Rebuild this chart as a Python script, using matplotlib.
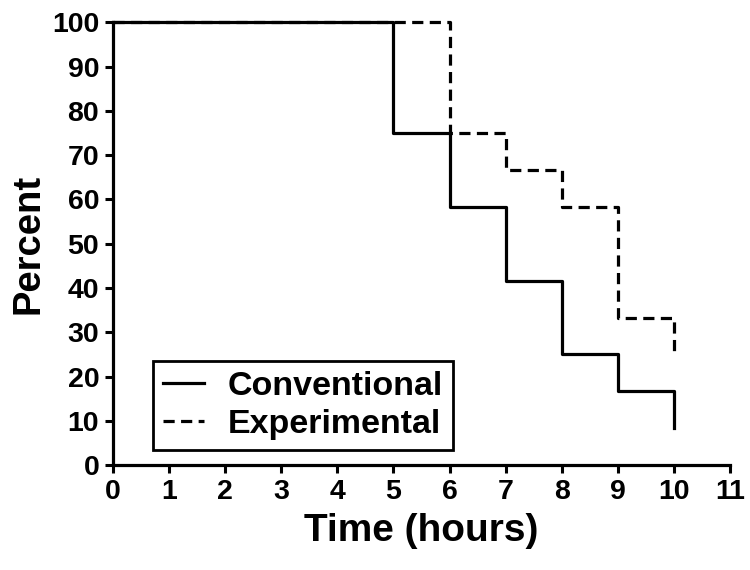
import matplotlib.pyplot as plt

plt.rcParams['font.family'] = ['Liberation Sans', 'DejaVu Sans']
plt.rcParams['font.weight'] = 'bold'

# survival data (percent)
conv_time = [0, 5, 6, 7, 8, 9, 10]
conv_pct = [100, 75, 58.33, 41.67, 25, 16.67, 8.33]
exp_time = [0, 6, 7, 8, 9, 10]
exp_pct = [100, 75, 66.67, 58.33, 33.33, 25]

x_ticks = list(range(0, 12))
y_ticks = list(range(0, 101, 10))

fig = plt.figure(figsize=(7.5, 5.7), dpi=100)
ax = fig.add_axes([0.1507, 0.184, 0.8227, 0.777])

ax.step(conv_time, conv_pct, where='post', color='black', lw=2.3,
        label='Conventional', clip_on=False)
ax.step(exp_time, exp_pct, where='post', color='black', lw=2.3,
        linestyle=(0, (3.5, 2)), label='Experimental', clip_on=False)

ax.set_xlim(0, 11)
ax.set_ylim(0, 100)
ax.set_xticks(x_ticks)
ax.set_yticks(y_ticks)
ax.tick_params(direction='out', length=6, width=2.2, labelsize=20.5, pad=4)
for lab in ax.get_xticklabels() + ax.get_yticklabels():
    lab.set_fontweight('bold')

for s in ['top', 'right']:
    ax.spines[s].set_visible(False)
for s in ['left', 'bottom']:
    ax.spines[s].set_linewidth(2.3)

ax.set_xlabel('Time (hours)', fontsize=28, fontweight='bold', labelpad=6)
ax.set_ylabel('Percent', fontsize=27.5, fontweight='bold', labelpad=4)

leg = ax.legend(loc='lower left', bbox_to_anchor=(0.065, 0.034), fontsize=24.5,
                frameon=True, fancybox=False, edgecolor='black', framealpha=1,
                handlelength=1.2, borderaxespad=0, borderpad=0.3,
                labelspacing=0.2, handletextpad=0.7)
leg.get_frame().set_linewidth(2)
for t in leg.get_texts():
    t.set_fontweight('bold')

plt.savefig('out.png', dpi=100)
